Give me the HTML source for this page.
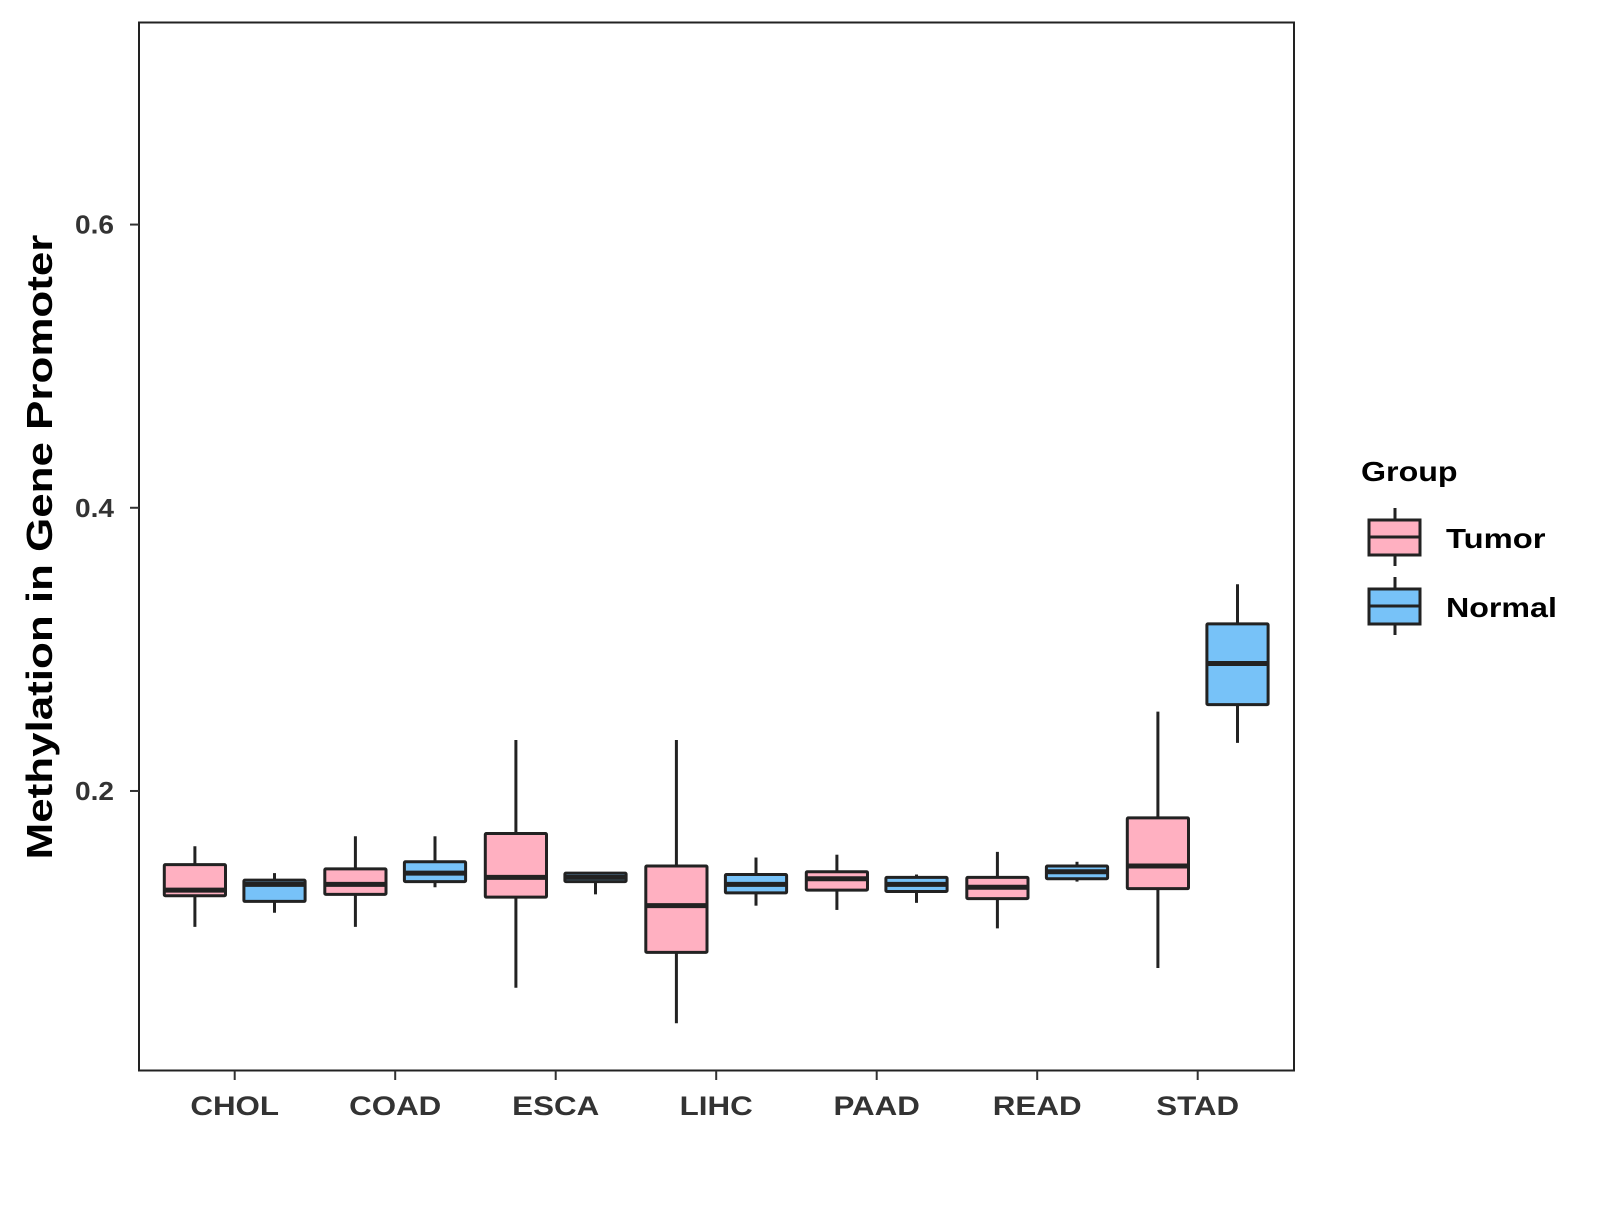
<!DOCTYPE html>
<html><head><meta charset="utf-8"><style>
html,body{margin:0;padding:0;background:#fff}
svg text{font-family:"Liberation Sans",Arial,sans-serif;font-weight:bold}
</style></head><body>
<svg id="chart" width="1600" height="1200" viewBox="0 0 1600 1200" xmlns="http://www.w3.org/2000/svg">
<rect x="0" y="0" width="1600" height="1200" fill="#fff"/>
<g id="marks"></g>
<rect x="139" y="22.5" width="1155" height="1048" fill="none" stroke="#222" stroke-width="2"/>
<g id="axes"></g>
<text class="wide" data-f="1.22" transform="translate(52,547) rotate(-90)" text-anchor="middle" font-size="36" fill="#000">Methylation in Gene Promoter</text>
<g>
<text class="wide" data-f="1.15" x="1361" y="481" font-size="28" fill="#000">Group</text>
<g>
<line x1="1395" y1="508" x2="1395" y2="566" stroke="#222" stroke-width="3"/>
<rect x="1369" y="520" width="51" height="35" fill="#FFB0C1" stroke="#222" stroke-width="3"/>
<line x1="1369" y1="537" x2="1420" y2="537" stroke="#222" stroke-width="3"/>
<text class="wide" data-f="1.17" x="1446" y="548" font-size="28" fill="#000">Tumor</text>
</g>
<g>
<line x1="1395" y1="577" x2="1395" y2="635" stroke="#222" stroke-width="3"/>
<rect x="1369" y="589" width="51" height="35" fill="#77C2F8" stroke="#222" stroke-width="3"/>
<line x1="1369" y1="606" x2="1420" y2="606" stroke="#222" stroke-width="3"/>
<text class="wide" data-f="1.15" x="1446" y="617" font-size="28" fill="#000">Normal</text>
</g>
</g>
</svg>
<script>
const categories = ["CHOL","COAD","ESCA","LIHC","PAAD","READ","STAD"];
const tumorLow = [0.104,0.104,0.061,0.036,0.116,0.103,0.075];
const tumorQ1  = [0.126,0.127,0.125,0.086,0.130,0.124,0.131];
const tumorMed = [0.130,0.134,0.139,0.119,0.138,0.132,0.147];
const tumorQ3  = [0.148,0.145,0.170,0.147,0.143,0.139,0.181];
const tumorHigh= [0.161,0.168,0.236,0.236,0.155,0.157,0.256];
const normalLow = [0.114,0.132,0.127,0.119,0.121,0.136,0.234];
const normalQ1  = [0.122,0.136,0.136,0.128,0.129,0.138,0.261];
const normalMed = [0.134,0.142,0.139,0.134,0.134,0.143,0.290];
const normalQ3  = [0.137,0.150,0.142,0.141,0.139,0.147,0.318];
const normalHigh= [0.142,0.168,0.142,0.153,0.141,0.150,0.346];
const yTicks = [0.2,0.4,0.6];
const yTickLabels = ["0.2","0.4","0.6"];

const SVGNS="http://www.w3.org/2000/svg";
const yDomMin=0.0026,yDomMax=0.7427,plotTop=22.5,plotBottom=1070.5;
function yScale(v){return plotBottom-(v-yDomMin)/(yDomMax-yDomMin)*(plotBottom-plotTop);}
function xScale(i){return 234.7+i*160.5;}
function mk(tag,attrs,parent){const e=document.createElementNS(SVGNS,tag);for(const k in attrs)e.setAttribute(k,attrs[k]);parent.appendChild(e);return e;}
const marksG=document.getElementById('marks'),axesG=document.getElementById('axes');
const groups=[
 {name:'tumor',off:-39.8,fill:'#FFB0C1',lo:tumorLow,q1:tumorQ1,md:tumorMed,q3:tumorQ3,hi:tumorHigh},
 {name:'normal',off:39.8,fill:'#77C2F8',lo:normalLow,q1:normalQ1,md:normalMed,q3:normalQ3,hi:normalHigh}];
const hw=30.6;
categories.forEach((c,i)=>{
 groups.forEach(g=>{
  const cx=xScale(i)+g.off;
  const grp=mk('g',{},marksG);
  
  
  mk('line',{x1:cx,x2:cx,y1:yScale(g.hi[i]),y2:yScale(g.lo[i]),stroke:'#222','stroke-width':3},grp);
  mk('rect',{x:cx-hw,y:yScale(g.q3[i]),width:hw*2,height:Math.max(0,yScale(g.q1[i])-yScale(g.q3[i])),fill:g.fill,stroke:'#222','stroke-width':3,rx:1},grp);
  mk('line',{x1:cx-hw,x2:cx+hw,y1:yScale(g.md[i]),y2:yScale(g.md[i]),stroke:'#222','stroke-width':5},grp);
 });
 const t=mk('line',{x1:xScale(i),x2:xScale(i),y1:1070.5,y2:1080,stroke:'#333','stroke-width':2},axesG);
 
 
 const l=mk('text',{x:xScale(i),y:1115,'text-anchor':'middle','font-size':27,fill:'#333','class':'wide','data-f':'1.16'},axesG);
 
 
 l.textContent=c;
});
yTicks.forEach((v,i)=>{
 const t=mk('line',{x1:130,x2:139,y1:yScale(v),y2:yScale(v),stroke:'#333','stroke-width':2},axesG);
 
 
 const l=mk('text',{x:114,y:yScale(v)+9,'text-anchor':'end','font-size':26,fill:'#333','class':'wide','data-f':'1.08'},axesG);
 
 
 l.textContent=yTickLabels[i];
});
document.querySelectorAll('text.wide').forEach(t=>{
 const f=parseFloat(t.getAttribute('data-f'));
 const len=t.getComputedTextLength();
 t.setAttribute('textLength',(len*f).toFixed(1));
 t.setAttribute('lengthAdjust','spacingAndGlyphs');
});
</script>
</body></html>
